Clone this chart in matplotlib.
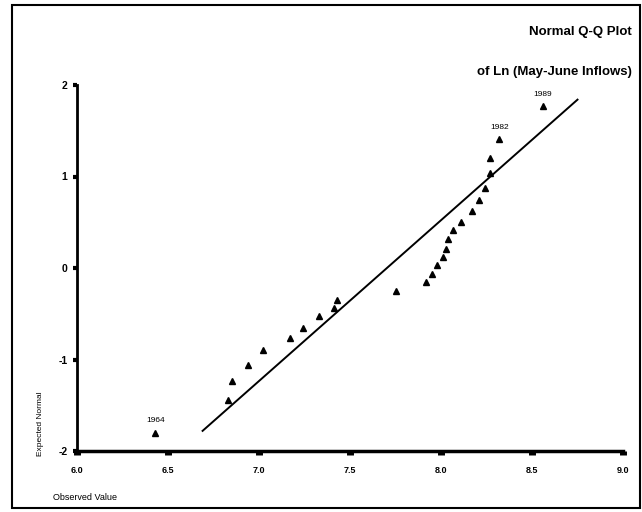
import matplotlib
matplotlib.use("Agg")
import matplotlib.pyplot as plt
from matplotlib.patches import Rectangle

plt.rcParams["font.family"] = ["Liberation Sans", "DejaVu Sans"]

# Observed ln(May-June inflows) and expected normal scores
observed = [6.43, 6.83, 6.853, 6.94, 7.02, 7.17, 7.24, 7.33, 7.41, 7.43,
            7.75, 7.916, 7.95, 7.98, 8.01, 8.03, 8.036, 8.064, 8.11, 8.17,
            8.21, 8.24, 8.27, 8.27, 8.32, 8.56]
expected = [-1.80, -1.44, -1.23, -1.055, -0.90, -0.77, -0.66, -0.53, -0.44, -0.35,
            -0.25, -0.155, -0.065, 0.03, 0.12, 0.21, 0.32, 0.41, 0.50, 0.62,
            0.74, 0.87, 1.04, 1.20, 1.41, 1.77]

# reference line end points
line_x = [6.69, 8.75]
line_y = [-1.78, 1.84]

# labelled years
years = ["1964", "1982", "1989"]
year_x = [6.43, 8.32, 8.56]
year_y = [-1.80, 1.41, 1.77]

xticks = [6.0, 6.5, 7.0, 7.5, 8.0, 8.5, 9.0]
yticks = [-2, -1, 0, 1, 2]

W, H = 642, 512
fig = plt.figure(figsize=(W / 100, H / 100), dpi=100)
ax = fig.add_axes([77 / W, (H - 451) / H, (623 - 77) / W, (451 - 85) / H])

ax.plot(line_x, line_y, color="black", lw=1.4)
ax.plot(observed, expected, linestyle="none", marker="^", color="black", markersize=5)

for yr, x, y in zip(years, year_x, year_y):
    ax.text(x, y + 0.09, yr, ha="center", va="bottom", fontsize=6)

ax.set_xlim(6.0, 9.0)
ax.set_ylim(-2, 2)
ax.set_xticks(xticks)
ax.set_xticklabels(["%.1f" % t for t in xticks], fontsize=6.5, fontweight="bold")
ax.set_yticks(yticks)
ax.set_yticklabels([str(t) for t in yticks], fontsize=7.5, fontweight="bold")

for s in ["top", "right"]:
    ax.spines[s].set_visible(False)
ax.spines["left"].set_linewidth(2)
ax.spines["bottom"].set_linewidth(2.5)
ax.tick_params(axis="x", length=3, width=5, pad=8)
ax.tick_params(axis="y", length=3, width=3, pad=4)
ax.patch.set_visible(False)

ax.set_ylabel("Expected Normal", fontsize=6)
ax.yaxis.set_label_coords(-0.06, 0.075)
fig.text(53 / W, (H - 497) / H, "Observed Value", fontsize=6.5, ha="left", va="center")

fig.text(632 / W, (H - 32) / H, "Normal Q-Q Plot", fontsize=9.5, fontweight="bold",
         ha="right", va="center")
fig.text(632 / W, (H - 72) / H, "of Ln (May-June Inflows)", fontsize=9.5, fontweight="bold",
         ha="right", va="center")

fig.patches.append(Rectangle((12 / W, 4 / H), (640 - 12) / W, (507 - 4) / H,
                             transform=fig.transFigure, fill=False,
                             edgecolor="black", lw=1.5))

fig.savefig("out.png", dpi=100)
